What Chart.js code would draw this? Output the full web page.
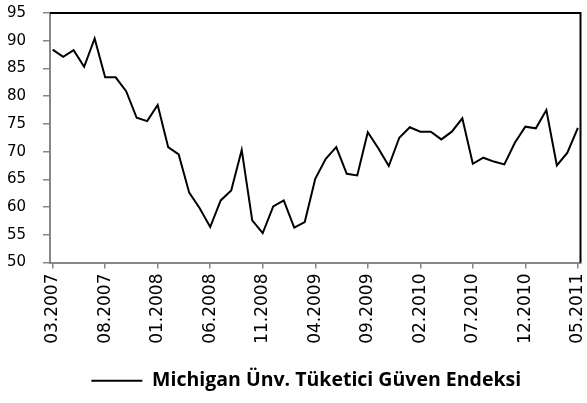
<!DOCTYPE html>
<html>
<head>
<meta charset="utf-8">
<script src="https://cdn.jsdelivr.net/npm/chart.js@4.4.1/dist/chart.umd.min.js"></script>
<style>
  html, body { margin: 0; padding: 0; background: #fff; }
  #wrap { width: 587px; height: 403px; }
</style>
</head>
<body>
<div id="wrap"><canvas id="chart"></canvas></div>
<script>
// monthly, 03.2007 - 05.2011
const months = [
    '03.2007', '04.2007', '05.2007', '06.2007', '07.2007', '08.2007', '09.2007', '10.2007', '11.2007', '12.2007',
    '01.2008', '02.2008', '03.2008', '04.2008', '05.2008', '06.2008', '07.2008', '08.2008', '09.2008', '10.2008', '11.2008', '12.2008',
    '01.2009', '02.2009', '03.2009', '04.2009', '05.2009', '06.2009', '07.2009', '08.2009', '09.2009', '10.2009', '11.2009', '12.2009',
    '01.2010', '02.2010', '03.2010', '04.2010', '05.2010', '06.2010', '07.2010', '08.2010', '09.2010', '10.2010', '11.2010', '12.2010',
    '01.2011', '02.2011', '03.2011', '04.2011', '05.2011'
];
const sentiment = [
    88.4, 87.1, 88.3, 85.3, 90.4, 83.4, 83.4, 80.9, 76.1, 75.5,
    78.4, 70.8, 69.5, 62.6, 59.8, 56.4, 61.2, 63.0, 70.3, 57.6, 55.3, 60.1,
    61.2, 56.3, 57.3, 65.1, 68.7, 70.8, 66.0, 65.7, 73.5, 70.6, 67.4, 72.5,
    74.4, 73.6, 73.6, 72.2, 73.6, 76.0, 67.8, 68.9, 68.2, 67.7, 71.6, 74.5,
    74.2, 77.5, 67.5, 69.8, 74.3
];
const yTicks = [50, 55, 60, 65, 70, 75, 80, 85, 90, 95];
const seriesName = 'Michigan Ünv. Tüketici Güven Endeksi';

const axisGray = '#868686';

// black frame on top and right of the plot area
const framePlugin = {
    id: 'frame',
    afterLayout(chart) {
        // legend sits a bit left of the plot centre in the original
        chart.legend.left -= 9;
        chart.legend.right -= 9;
    },
    afterDraw(chart) {
        const { ctx, chartArea: a } = chart;
        ctx.save();
        ctx.strokeStyle = '#000';
        ctx.lineWidth = 2;
        ctx.beginPath();
        ctx.moveTo(a.left, a.top);
        ctx.lineTo(a.right, a.top);
        ctx.lineTo(a.right, a.bottom);
        ctx.stroke();
        ctx.restore();
    }
};

const points = sentiment.map((v, i) => ({ x: i, y: v }));

new Chart('chart', {
    type: 'line',
    data: {
        datasets: [
            {
                label: seriesName,
                data: points,
                borderColor: '#000',
                backgroundColor: '#000',
                borderWidth: 2,
                pointRadius: 0,
                tension: 0,
                fill: false
            }
        ]
    },
    options: {
        responsive: true,
        maintainAspectRatio: false,
        animation: false,
        layout: {
            padding: { top: 13, right: 6.5, bottom: 2.5, left: 0 }
        },
        plugins: {
            tooltip: { enabled: false },
            legend: {
                position: 'bottom',
                fullSize: false,
                labels: {
                    usePointStyle: true,
                    pointStyle: 'line',
                    pointStyleWidth: 51,
                    color: '#000',
                    padding: 10,
                    font: { family: 'Open Sans', weight: 'bold', size: 19.5 }
                }
            }
        },
        scales: {
            x: {
                type: 'linear',
                min: -0.25,
                max: months.length - 0.75,
                afterBuildTicks: (scale) => {
                    scale.ticks = months.map((m, i) => ({ value: i })).filter(t => t.value % 5 === 0);
                },
                afterFit: (scale) => {
                    scale.height = 98.5;
                    scale.paddingLeft = 0;
                    scale.paddingRight = 0;
                },
                ticks: {
                    autoSkip: false,
                    maxRotation: 90,
                    minRotation: 90,
                    padding: 5,
                    color: '#000',
                    font: { family: 'DejaVu Sans', size: 17 },
                    callback: (v) => months[v]
                },
                grid: {
                    drawOnChartArea: false,
                    tickLength: 6,
                    color: axisGray,
                    lineWidth: 1.5
                },
                border: { color: axisGray, width: 2 }
            },
            y: {
                min: 50,
                max: 95,
                afterBuildTicks: (scale) => {
                    scale.ticks = yTicks.map(v => ({ value: v }));
                },
                afterFit: (scale) => {
                    scale.width = 50;
                    scale.paddingTop = 0;
                    scale.paddingBottom = 0;
                },
                ticks: {
                    padding: 17,
                    color: '#000',
                    font: { family: 'DejaVu Sans', size: 15 }
                },
                grid: {
                    drawOnChartArea: false,
                    tickLength: 7,
                    color: axisGray,
                    lineWidth: 1.5
                },
                border: { color: axisGray, width: 2 }
            }
        }
    },
    plugins: [framePlugin]
});
</script>
</body>
</html>
